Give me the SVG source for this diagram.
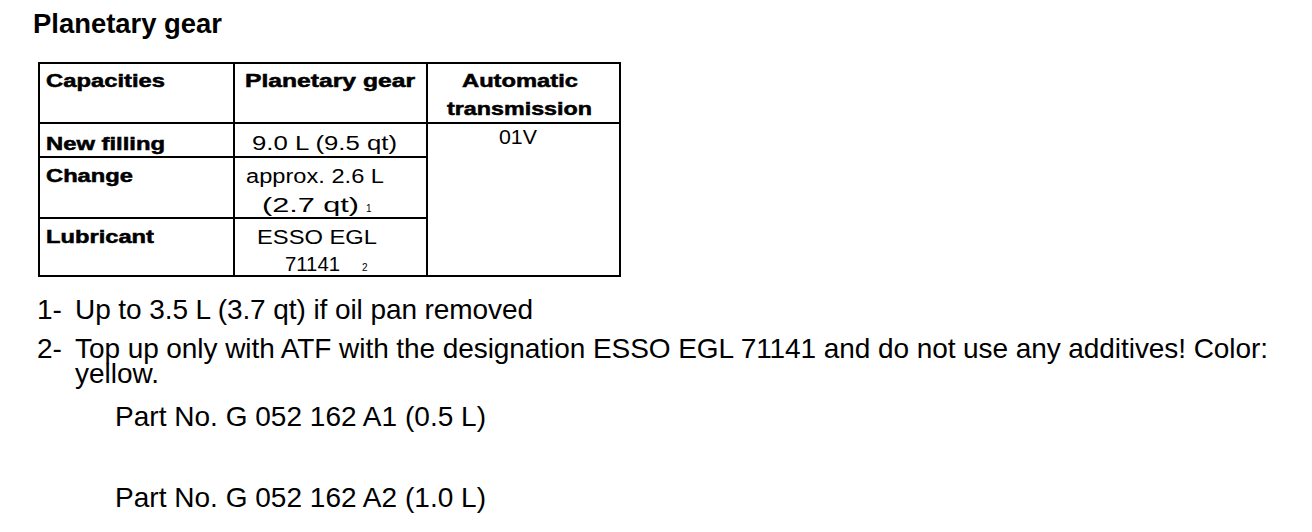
<svg xmlns="http://www.w3.org/2000/svg" width="1312" height="532" viewBox="0 0 1312 532">
<style>
.t{font-family:"Liberation Sans",Arial,sans-serif;fill:#000}
.b{font-weight:bold;font-size:18px;stroke:#000;stroke-width:0.5}
.r{font-size:20px}
.n{font-size:28px}
.s{font-size:10px}
.ln{stroke:#000;stroke-width:2;fill:none}
</style>
<rect width="1312" height="532" fill="#fff"/>
<text id="title" class="t" x="33" y="32.5" font-size="27.5" font-weight="bold" textLength="189" lengthAdjust="spacingAndGlyphs">Planetary gear</text>
<g id="table">
<rect class="ln" x="39" y="63" width="581" height="213"/>
<line class="ln" x1="234" y1="63" x2="234" y2="276"/>
<line class="ln" x1="427" y1="63" x2="427" y2="276"/>
<line class="ln" x1="39" y1="123" x2="620" y2="123"/>
<line class="ln" x1="39" y1="157" x2="427" y2="157"/>
<line class="ln" x1="39" y1="218" x2="427" y2="218"/>
</g>
<g id="cells">
<text class="t b" x="46" y="87" textLength="119" lengthAdjust="spacingAndGlyphs">Capacities</text>
<text class="t b" x="245" y="87" textLength="170" lengthAdjust="spacingAndGlyphs">Planetary  gear</text>
<text class="t b" x="462" y="87" textLength="116" lengthAdjust="spacingAndGlyphs">Automatic</text>
<text class="t b" x="447" y="115" textLength="145" lengthAdjust="spacingAndGlyphs">transmission</text>
<text class="t b" x="46" y="150" textLength="119" lengthAdjust="spacingAndGlyphs">New filling</text>
<text class="t r" x="252" y="150" textLength="145" lengthAdjust="spacingAndGlyphs">9.0 L  (9.5 qt)</text>
<text class="t r" x="499" y="144" textLength="38" lengthAdjust="spacingAndGlyphs">01V</text>
<text class="t b" x="46" y="182" textLength="87" lengthAdjust="spacingAndGlyphs">Change</text>
<text class="t r" x="246" y="183" textLength="138" lengthAdjust="spacingAndGlyphs">approx. 2.6 L</text>
<text class="t r" x="262" y="212" textLength="97" lengthAdjust="spacingAndGlyphs">(2.7  qt)</text>
<text class="t s" x="366" y="212">1</text>
<text class="t b" x="46" y="243" textLength="108" lengthAdjust="spacingAndGlyphs">Lubricant</text>
<text class="t r" x="257" y="244" textLength="120" lengthAdjust="spacingAndGlyphs">ESSO  EGL</text>
<text class="t r" x="285" y="271" textLength="55" lengthAdjust="spacingAndGlyphs">71141</text>
<text class="t s" x="362" y="271">2</text>
</g>
<g id="notes">
<text class="t n" x="37" y="319">1-</text>
<text class="t n" x="75" y="319" textLength="458" lengthAdjust="spacing">Up to 3.5 L (3.7 qt) if oil pan removed</text>
<text class="t n" x="37" y="358">2-</text>
<text class="t n" x="75" y="358" textLength="1193" lengthAdjust="spacing">Top up only with ATF with the designation ESSO EGL 71141 and do not use any additives! Color:</text>
<text class="t n" x="75" y="383">yellow.</text>
<text class="t n" x="115" y="426" textLength="371" lengthAdjust="spacing">Part No. G 052 162 A1 (0.5 L)</text>
<text class="t n" x="115" y="507" textLength="371" lengthAdjust="spacing">Part No. G 052 162 A2 (1.0 L)</text>
</g>
</svg>
